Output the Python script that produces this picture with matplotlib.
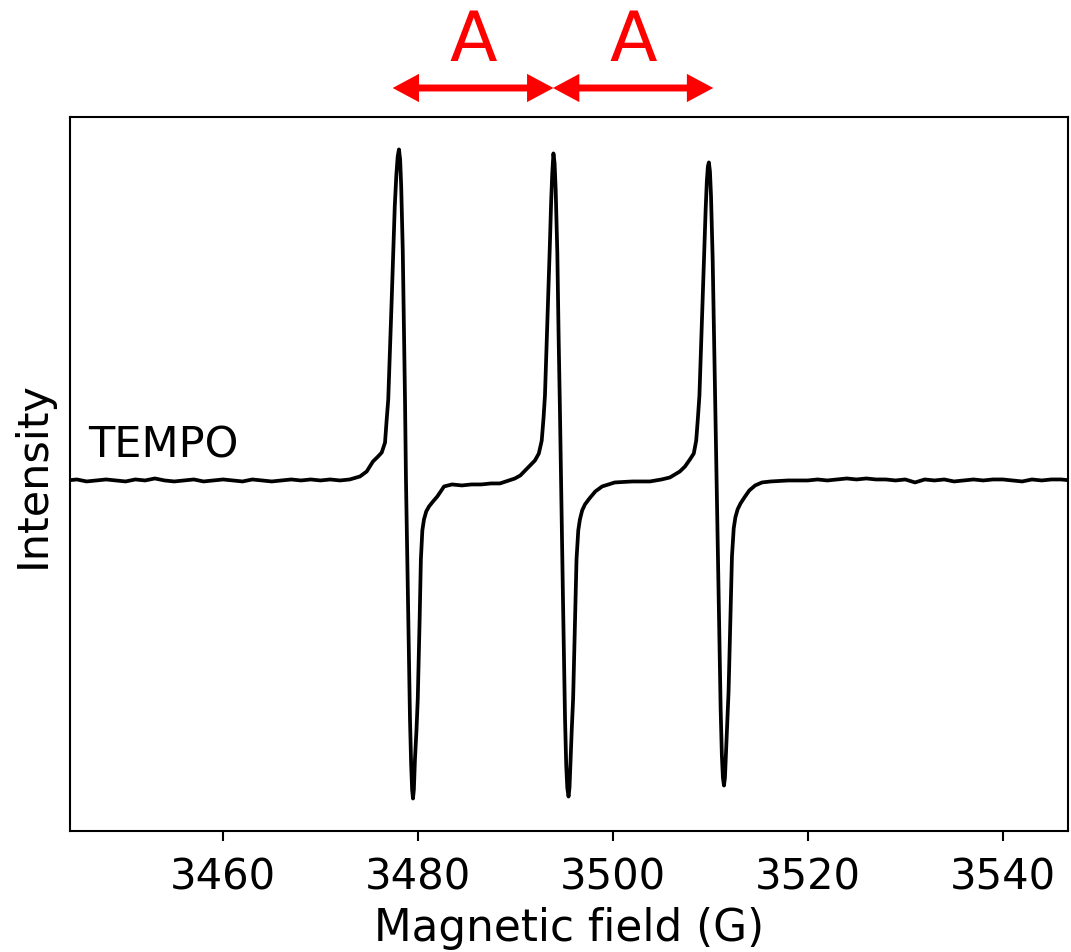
#Script for plotting the TEMPO EPR spectrum

#imports
import numpy as np
import matplotlib
matplotlib.use("Agg")
import matplotlib.pyplot as plt

#data (field in G, intensity in a.u.)
left_field = [3444, 3445, 3446, 3447, 3448, 3449, 3450, 3451, 3452, 3453,
	3454, 3455, 3456, 3457, 3458, 3459, 3460, 3461, 3462, 3463,
	3464, 3465, 3466, 3467, 3468, 3469, 3470, 3471]
left_int = [0, 1, -1, 0, 1, 0, -1, 1, 0, 2, 0, -1, 0, 1, -1, 0,
	1, 0, -1, 1, 0, -1, 0, 1, 0, 1, 0, 1]

line1_field = [3472.0, 3473.0, 3474.05, 3474.74, 3475.38, 3475.9, 3476.28,
	3476.62, 3476.79, 3476.95, 3477.13, 3477.30, 3477.47, 3477.62, 3477.78,
	3477.92, 3478.05, 3478.17, 3478.28, 3478.44, 3478.58, 3478.67, 3478.77,
	3478.87, 3478.97, 3479.08, 3479.18, 3479.30, 3479.40, 3479.49, 3479.58,
	3479.69, 3479.85, 3479.98, 3480.17, 3480.30, 3480.45, 3480.62, 3480.85,
	3481.14, 3481.55, 3481.99, 3482.68, 3483.5, 3484.5, 3485.5, 3486.5,
	3487.5, 3488.41]
line1_int = [0, 1, 4, 9, 19, 24, 28, 38, 61, 81, 131, 180, 231, 275, 306,
	325, 332, 322, 295, 231, 140, 81, 0, -60, -119, -180, -239, -285, -310,
	-319, -310, -280, -250, -219, -140, -79, -50, -39, -31, -26, -21, -16,
	-6, -4, -5, -4, -4, -3, -3]

line2_field = [3489.95, 3490.5, 3491.0, 3491.5, 3492.0, 3492.4, 3492.7,
	3492.88, 3493.03, 3493.2, 3493.37, 3493.53, 3493.66, 3493.78, 3493.9,
	3494.02, 3494.13, 3494.3, 3494.44, 3494.56, 3494.68, 3494.78, 3494.88,
	3494.99, 3495.09, 3495.21, 3495.32, 3495.45, 3495.55, 3495.66, 3495.78,
	3495.92, 3496.12, 3496.27, 3496.45, 3496.62, 3496.85, 3497.14, 3497.6,
	3498.2, 3498.9, 3500.2, 3502.0, 3503.8, 3505.0, 3505.85]
line2_int = [2, 5, 10, 15, 20, 27, 40, 62, 85, 135, 185, 235, 278, 308, 328,
	318, 292, 228, 140, 75, 0, -60, -119, -180, -239, -285, -308, -317, -308,
	-280, -250, -219, -140, -79, -50, -39, -30, -24, -18, -11, -6, -2, -1,
	-1, 1, 3]

line3_field = [3506.87, 3507.4, 3507.9, 3508.3, 3508.55, 3508.72, 3508.88,
	3509.05, 3509.22, 3509.38, 3509.52, 3509.64, 3509.75, 3509.85, 3509.96,
	3510.07, 3510.24, 3510.4, 3510.53, 3510.65, 3510.75, 3510.85, 3510.96,
	3511.06, 3511.18, 3511.29, 3511.4, 3511.5, 3511.61, 3511.73, 3511.87,
	3512.07, 3512.22, 3512.4, 3512.57, 3512.8, 3513.1, 3513.5, 3514.0,
	3514.6, 3515.3, 3516.2, 3518.0, 3519.18]
line3_int = [9, 14, 21, 27, 40, 62, 85, 135, 185, 232, 272, 300, 315, 319,
	310, 285, 222, 135, 70, 0, -60, -115, -175, -230, -275, -298, -306, -298,
	-272, -242, -212, -135, -76, -48, -37, -29, -23, -17, -10, -5, -2, -1,
	0, 0]

right_field = [3520, 3521, 3522, 3523, 3524, 3525, 3526, 3527, 3528, 3529,
	3530, 3531, 3532, 3533, 3534, 3535, 3536, 3537, 3538, 3539,
	3540, 3541, 3542, 3543, 3544, 3545, 3546, 3547]
right_int = [0, 1, 0, 1, 2, 1, 2, 1, 1, 0, 1, -2, 1, 0, 1, -1, 0, 1, 0,
	1, 1, 0, -1, 1, 0, 1, 1, 0]

#hyperfine splitting arrows (start, end)
arrow_fields = [(3477.4, 3493.9), (3493.85, 3510.3)]
arrow_label = "A"
sample_label = "TEMPO"

field = np.concatenate([left_field, line1_field, line2_field, line3_field, right_field])
intensity = np.concatenate([left_int, line1_int, line2_int, line3_int, right_int])

#Create the plot
fig = plt.figure(figsize=(10.71, 9.53), dpi=100)
ax = fig.add_axes([0.0654, 0.127, 0.9318, 0.7492])
ax.plot(field, intensity, color='black', lw=2.7)
ax.set_xlim(3444.3, 3546.7)
ax.set_xticks([3460, 3480, 3500, 3520, 3540])
ax.set_yticks([])
ax.tick_params(axis='x', labelsize=30, length=7, width=1.5, pad=11)
for sp in ax.spines.values():
	sp.set_linewidth(1.5)

#label the axies
ax.set_xlabel('Magnetic field (G)', fontsize=31.5, labelpad=6)
ax.set_ylabel('Intensity', fontsize=31, labelpad=12)
ax.text(3446.2, 36, sample_label, fontsize=31, va='center', ha='left')

#arrows and labels above the axes
trans = ax.get_xaxis_transform()
for x0, x1 in arrow_fields:
	ax.annotate('', xy=(x0, 1.0406), xytext=(x1, 1.0406), xycoords=trans,
		textcoords=trans, annotation_clip=False,
		arrowprops=dict(arrowstyle='<|-|>,head_length=0.28,head_width=0.15',
			color='red', lw=5, mutation_scale=40, shrinkA=0, shrinkB=0,
			joinstyle='miter', capstyle='butt'))
	ax.text((x0 + x1) / 2, 1.1067, arrow_label, transform=trans, color='red',
		fontsize=50, ha='center', va='center')

#output the figure
fig.savefig('out.png')
